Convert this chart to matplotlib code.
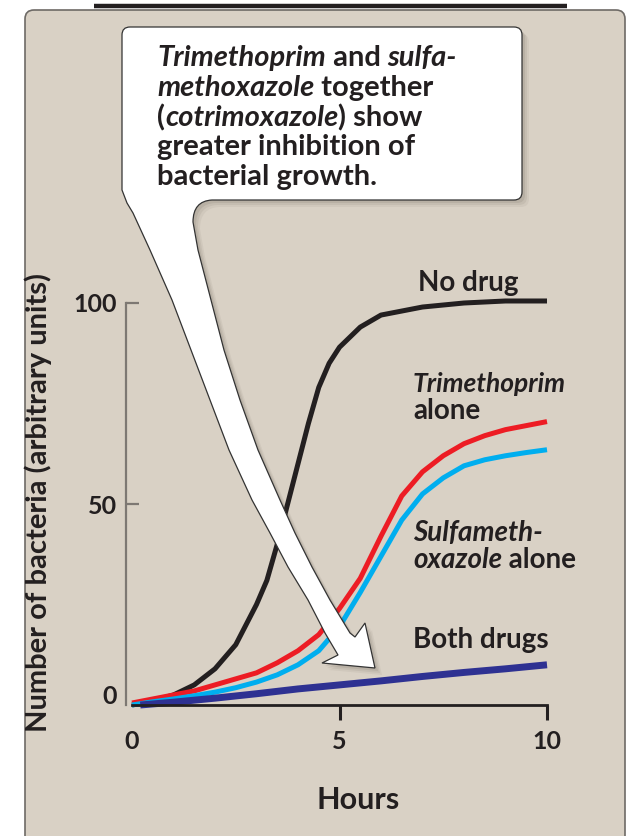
# bacterial growth with trimethoprim / sulfamethoxazole
import matplotlib
matplotlib.use('Agg')
import matplotlib.pyplot as plt
from matplotlib.patches import FancyBboxPatch, PathPatch
from matplotlib.path import Path
from matplotlib.transforms import Affine2D

W, H = 628, 836

# curves (hours, number of bacteria)
hours_no_drug = [0, 0.5, 1, 1.5, 2, 2.5, 3, 3.25, 3.5, 3.75, 4, 4.25, 4.5, 4.75,
                 5, 5.5, 6, 6.5, 7, 8, 9, 10]
no_drug = [0, 1, 2.5, 5, 9, 15, 25, 31, 40, 50, 60, 70, 79, 85,
           89, 94, 97, 98, 99, 100, 100.5, 100.5]

hours = [0, 0.5, 1, 1.5, 2, 2.5, 3, 3.5, 4, 4.5, 5, 5.5, 6, 6.5, 7, 7.5, 8,
         8.5, 9, 9.5, 10]
trimethoprim = [0.5, 1.5, 2.5, 3.5, 5, 6.5, 8, 10.5, 13.5, 17.5, 24, 31.5, 42,
                52, 58, 62, 65, 67, 68.5, 69.5, 70.5]
sulfamethoxazole = [0, 0.8, 1.5, 2.3, 3.2, 4.3, 5.7, 7.5, 10, 13.5, 19.5, 28, 37,
                    46, 52.5, 56.5, 59.5, 61, 62, 62.8, 63.5]

hours_both = [0.2, 1, 2, 3, 4, 5, 6, 7, 8, 9, 10]
both_drugs = [0, 0.7, 1.7, 2.8, 4, 5, 6, 7.1, 8.1, 9, 10]

x_ticks = [0, 5, 10]
y_ticks = [50, 100]

BG = '#D9D1C5'
INK = '#231F20'

plt.rcParams['font.family'] = ['Lato', 'DejaVu Sans']

fig = plt.figure(figsize=(W / 100, H / 100), dpi=100)
fig.patch.set_facecolor('white')
# pixel coordinates, y downwards
px = Affine2D().scale(1, -1).translate(0, H).scale(1 / W, 1 / H) + fig.transFigure

# beige panel and the black rule above it
panel = FancyBboxPatch((25, 10), 600, 880, boxstyle='round,pad=0,rounding_size=9',
                       transform=px, facecolor=BG, edgecolor='#6e6a66', lw=1.2, zorder=-2)
fig.patches.append(panel)
fig.lines.append(plt.Line2D([94, 567], [6, 6], transform=px, color=INK, lw=3.2,
                            solid_capstyle='butt', zorder=-1))

ax = fig.add_axes([132 / W, (H - 705) / H, (547 - 132) / W, (705 - 303) / H])
ax.patch.set_visible(False)
ax.set_xlim(0, 10)
ax.set_ylim(0, 100)

ax.plot(hours_no_drug, no_drug, color=INK, lw=3.6, clip_on=False, solid_capstyle='butt')
ax.plot(hours, trimethoprim, color='#ED1C24', lw=3.6, clip_on=False, solid_capstyle='butt')
ax.plot(hours, sulfamethoxazole, color='#00AEEF', lw=3.6, clip_on=False, solid_capstyle='butt')
ax.plot(hours_both, both_drugs, color='#2E3192', lw=5, clip_on=False, solid_capstyle='butt')

for s in ['top', 'right']:
    ax.spines[s].set_visible(False)
ax.spines['left'].set_position(('outward', 4))
ax.spines['left'].set_color('#7d7873')
ax.spines['left'].set_linewidth(1.6)
ax.spines['bottom'].set_color(INK)
ax.spines['bottom'].set_linewidth(2)

ax.set_xticks(x_ticks)
ax.set_xticklabels([str(v) for v in x_ticks])
ax.set_yticks(y_ticks)
ax.set_yticklabels([str(v) for v in y_ticks])
ax.tick_params(axis='x', direction='out', length=11, width=2.2, color=INK, pad=7,
               labelsize=18, labelcolor=INK)
ax.tick_params(axis='y', direction='in', length=9, width=1.6, color='#7d7873', pad=7,
               labelsize=18, labelcolor=INK)
ax.xaxis.get_major_ticks()[0].tick1line.set_visible(False)
for lbl in ax.get_xticklabels() + ax.get_yticklabels():
    lbl.set_fontweight('bold')
ax.annotate('0', xy=(0, 0), xycoords=('axes fraction', 'data'), xytext=(-11, 6),
            textcoords='offset points', ha='right', va='center', fontsize=18,
            fontweight='bold', color=INK)

fig.text(358, 800, 'Hours', transform=px, ha='center', va='center', fontsize=22,
         fontweight='bold', color=INK)
fig.text(38, 502, 'Number of bacteria (arbitrary units)', transform=px, ha='center',
         va='center', rotation=90, fontsize=21, fontweight='bold', color=INK)

renderer = fig.canvas.get_renderer()


def text_width(s, size, style):
    t = fig.text(0, 0, 'x' + s + 'x', fontsize=size, fontstyle=style, fontweight='bold')
    t2 = fig.text(0, 0, 'xx', fontsize=size, fontstyle=style, fontweight='bold')
    w = t.get_window_extent(renderer).width - t2.get_window_extent(renderer).width
    t.remove()
    t2.remove()
    return w


def rich_line(x, y, parts, size, zorder=4):
    for s, style in parts:
        fig.text(x, y, s, transform=px, fontsize=size, fontstyle=style,
                 fontweight='bold', ha='left', va='center', color=INK, zorder=zorder)
        x += text_width(s, size, style)


# callout box with its arrow, traced in pixels
verts = [(130, 27), (514, 27), (522, 27), (522, 35), (522, 192), (522, 200), (514, 200),
         (212, 200), (193, 201), (193, 222)]
codes = [Path.MOVETO, Path.LINETO, Path.CURVE3, Path.CURVE3, Path.LINETO, Path.CURVE3,
         Path.CURVE3, Path.LINETO, Path.CURVE3, Path.CURVE3]
outline = [(198, 250), (211, 300), (224, 350), (240, 400), (258, 450), (280, 500),
           (295, 533), (312, 567), (330, 600), (350, 633), (355, 637),
           (365, 623), (375, 668), (322, 663),
           (338, 655), (325, 633), (308, 600), (288, 567), (270, 533), (252, 500),
           (229, 450), (210, 400), (191, 350), (172, 300), (150, 250), (133, 213),
           (127, 203), (122, 190), (122, 35)]
verts += outline
codes += [Path.LINETO] * len(outline)
verts += [(122, 27), (130, 27), (130, 27)]
codes += [Path.CURVE3, Path.CURVE3, Path.CLOSEPOLY]
callout = Path(verts, codes)

for off, a in [(7, 0.06), (5, 0.08), (3, 0.1)]:
    fig.patches.append(PathPatch(callout, transform=Affine2D().translate(off, off) + px,
                                 facecolor='#4a3f35', edgecolor='none', alpha=a, zorder=2))
fig.patches.append(PathPatch(callout, transform=px, facecolor='white', edgecolor='#333333',
                             lw=0.9, zorder=3))

N, I = 'normal', 'italic'
callout_lines = [
    [('Trimethoprim', I), (' and ', N), ('sulfa-', I)],
    [('methoxazole', I), (' together', N)],
    [('(', N), ('cotrimoxazole', I), (') show', N)],
    [('greater inhibition of', N)],
    [('bacterial growth.', N)],
]
for i, parts in enumerate(callout_lines):
    rich_line(157, 58 + 29.8 * i, parts, 21)

# curve labels
rich_line(418, 283, [('No drug', N)], 20)
rich_line(413, 384, [('Trimethoprim', I)], 19)
rich_line(413, 411, [('alone', N)], 20)
rich_line(413, 533, [('Sulfameth-', I)], 20)
rich_line(413, 560, [('oxazole', I), (' alone', N)], 20)
rich_line(413, 640, [('Both drugs', N)], 20)

fig.savefig('out.png', dpi=100, facecolor='white')
